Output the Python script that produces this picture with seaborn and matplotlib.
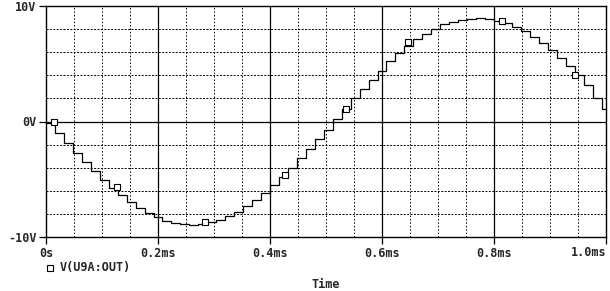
import matplotlib
matplotlib.use("Agg")
import matplotlib.pyplot as plt
from matplotlib.ticker import FixedLocator
import seaborn as sns
import pandas as pd

# ---- data ----
step_start_ms = [0.000, 0.016, 0.032, 0.048, 0.064, 0.080, 0.096, 0.112, 0.128, 0.144,
                 0.160, 0.176, 0.192, 0.208, 0.224, 0.240, 0.256, 0.272, 0.288, 0.304,
                 0.320, 0.336, 0.352, 0.368, 0.384, 0.400, 0.416, 0.432, 0.448, 0.464,
                 0.480, 0.496, 0.512, 0.528, 0.544, 0.560, 0.576, 0.592, 0.608, 0.624,
                 0.640, 0.656, 0.672, 0.688, 0.704, 0.720, 0.736, 0.752, 0.768, 0.784,
                 0.800, 0.816, 0.832, 0.848, 0.864, 0.880, 0.896, 0.912, 0.928, 0.944,
                 0.960, 0.976, 0.992]
step_volts = [-0.1, -1.0, -1.9, -2.7, -3.5, -4.3, -5.1, -5.8, -6.4, -7.0,
              -7.5, -7.9, -8.3, -8.6, -8.8, -8.9, -9.0, -8.9, -8.7, -8.5,
              -8.2, -7.8, -7.3, -6.8, -6.2, -5.5, -4.8, -4.0, -3.2, -2.4,
              -1.5, -0.7, 0.2, 1.1, 2.0, 2.8, 3.6, 4.4, 5.2, 5.9,
              6.5, 7.1, 7.6, 8.0, 8.4, 8.6, 8.8, 8.9, 9.0, 8.9,
              8.7, 8.5, 8.2, 7.8, 7.3, 6.8, 6.2, 5.5, 4.8, 4.0,
              3.2, 2.0, 1.1]
marker_ms = [0.014, 0.126, 0.284, 0.427, 0.535, 0.646, 0.815, 0.945]
marker_volts = [0.0, -5.7, -8.7, -4.6, 1.1, 6.9, 8.7, 4.0]

x_tick_vals = [0.0, 0.2, 0.4, 0.6, 0.8, 1.0]
x_tick_labels = ["0s", "0.2ms", "0.4ms", "0.6ms", "0.8ms", "1.0ms"]
y_tick_vals = [-10, 0, 10]
y_tick_labels = ["-10V", "0V", "10V"]
x_title = "Time"
trace_name = "V(U9A:OUT)"

# ---- figure ----
sns.set_style("white")
plt.rcParams["font.family"] = ["DejaVu Sans Mono", "DejaVu Sans"]
plt.rcParams["font.weight"] = "bold"

fig = plt.figure(figsize=(6.10, 2.91), dpi=100)
ax = fig.add_axes([46 / 610, 1 - 237 / 291, 560 / 610, 231 / 291])

# final edge so the last step reaches the right border
t_all = step_start_ms + [1.0]
v_all = step_volts + [step_volts[-1]]
df = pd.DataFrame({"t": t_all, "v": v_all})
sns.lineplot(data=df, x="t", y="v", drawstyle="steps-post", color="black",
             lw=0.9, ax=ax, zorder=3)
dm = pd.DataFrame({"t": marker_ms, "v": marker_volts})
sns.scatterplot(data=dm, x="t", y="v", marker="s", s=22, facecolor="white",
                edgecolor="black", linewidth=0.8, ax=ax, zorder=4)

ax.set_xlim(0, 1.0)
ax.set_ylim(-10, 10)

# grid
for i in range(1, 20):
    if i % 4 == 0:
        continue
    ax.axvline(0.05 * i, color="black", lw=0.7, ls=(0, (1.5, 2.0)), zorder=1)
for xv in x_tick_vals[1:-1]:
    ax.axvline(xv, color="black", lw=0.9, zorder=1)
for yv in [-8, -6, -4, -2, 2, 4, 6, 8]:
    ax.axhline(yv, color="black", lw=0.7, ls=(0, (2.0, 1.5)), zorder=1)
ax.axhline(0, color="black", lw=0.9, zorder=1)

for s in ax.spines.values():
    s.set_color("black")
    s.set_linewidth(1.0)
    s.set_visible(True)

ax.xaxis.set_major_locator(FixedLocator(x_tick_vals))
ax.set_xticklabels(x_tick_labels[:-1] + [""])
ax.yaxis.set_major_locator(FixedLocator(y_tick_vals))
ax.set_yticklabels(y_tick_labels)
ax.tick_params(axis="both", which="major", direction="out", length=5, width=0.9,
               color="black", labelsize=8.5, pad=2, bottom=True, left=True)

# last x label ends at the right border (as in the reference)
fig.text(607 / 610, 1 - 253 / 291, x_tick_labels[-1], fontsize=8.5,
         fontweight="bold", ha="right", va="center")

ax.set_xlabel("")
ax.set_ylabel("")
fig.text(326 / 610, 1 - 284 / 291, x_title, fontsize=8.5, fontweight="bold",
         ha="center", va="center")

# legend below the axes
fig.add_artist(plt.Line2D([50 / 610], [1 - 268 / 291], marker="s", markersize=4.5,
                          markerfacecolor="white", markeredgecolor="black",
                          markeredgewidth=0.8, linestyle="none",
                          transform=fig.transFigure))
fig.text(60 / 610, 1 - 268 / 291, trace_name, fontsize=8.5, fontweight="bold",
         ha="left", va="center")

fig.savefig("out.png", dpi=100)
